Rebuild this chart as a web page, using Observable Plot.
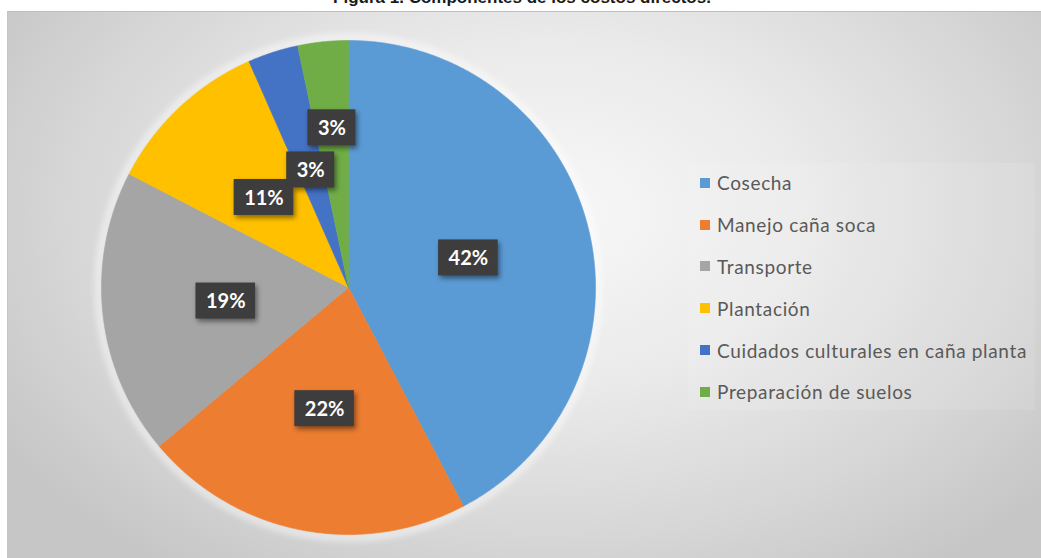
<!DOCTYPE html>
<html>
<head>
<meta charset="utf-8">
<script src="https://cdn.jsdelivr.net/npm/d3@7"></script>
<script src="https://cdn.jsdelivr.net/npm/@observablehq/plot@0.6"></script>
<style>
  html, body { margin: 0; padding: 0; background: #ffffff; overflow: hidden; }
  #wrap { position: relative; width: 1041px; height: 558px; overflow: hidden; }
  #title { position: absolute; left: 0; top: -12px; width: 1044px; text-align: center;
           font: bold 17px "Liberation Sans", Arial, sans-serif; color: #1a1a1a; white-space: nowrap; }
  #frame { position: absolute; left: 7px; top: 11px; width: 1040px; height: 560px;
           border-top: 1.5px solid #bdbdbd; border-left: 1px solid #c4c4c4;
           background: radial-gradient(ellipse 62% 78% at 52% 36%, #f8f8f8 0%, #eaeaea 40%, #d6d6d6 75%, #c6c6c6 100%); }
  #legendbg { position: absolute; left: 688px; top: 163px; width: 347px; height: 247px;
              background: rgba(255,255,255,0.1); }
  #chart { position: absolute; left: 0; top: 0; }
  #chart svg g[aria-label="rect"] { filter: drop-shadow(2px 3px 2.5px rgba(0,0,0,0.45)); }
  #chart svg g[aria-label="dot"] { filter: blur(3px); }
  #legend { position: absolute; left: 700px; top: 162px; font: 19px Lato, "Open Sans", sans-serif;
            letter-spacing: 0.65px; color: #595959; }
  .li { height: 41.8px; display: flex; align-items: center; white-space: nowrap; }
  .sw { width: 10px; height: 10px; margin-right: 7px; flex: none; }
</style>
</head>
<body>
<div id="wrap">
  <div id="title">Figura 1. Componentes de los costos directos.</div>
  <div id="frame"></div>
  <div id="legendbg"></div>
  <div id="chart"></div>
  <div id="legend"></div>
</div>
<script>
// ---- data ----
const categories = ["Cosecha", "Manejo caña soca", "Transporte", "Plantación", "Cuidados culturales en caña planta", "Preparación de suelos"];
const shares = [42.3, 21.6, 18.7, 10.8, 3.3, 3.3];
const labels = ["42%", "22%", "19%", "11%", "3%", "3%"];
const colors = ["#5B9BD5", "#ED7D31", "#A5A5A5", "#FFC000", "#4472C4", "#70AD47"];

// ---- layout ----
const W = 1041, H = 558;
const CX = 348, CY = 287, R = 247; // pie centre & radius in pixels

const arcs = d3.pie().sort(null).value(d => d)(shares);

// slice polygons in unit coordinates (radius 1)
const slicePts = [];
arcs.forEach((a, i) => {
  const name = categories[i];
  slicePts.push({name, x: 0, y: 0});
  const n = Math.max(4, Math.ceil((a.endAngle - a.startAngle) / 0.008));
  for (let k = 0; k <= n; k++) {
    const t = a.startAngle + (a.endAngle - a.startAngle) * k / n;
    slicePts.push({name, x: Math.sin(t), y: Math.cos(t)});
  }
  slicePts.push({name, x: 0, y: 0});
});

// label boxes: measure text, place at half radius, push outward on collision
const ctx = document.createElement("canvas").getContext("2d");
ctx.font = "bold 20px Lato";
const boxH = 36;
const placed = [];
arcs.forEach((a, i) => {
  const mid = (a.startAngle + a.endAngle) / 2;
  const w = ctx.measureText(labels[i]).width + 20;
  let f = 0.5, px, py;
  const hits = () => placed.some(b => Math.abs(b.px - px) < (b.w + w) / 2 - 12 && Math.abs(b.py - py) < boxH + 6);
  do {
    px = CX + f * R * Math.sin(mid);
    py = CY - f * R * Math.cos(mid);
    f += 0.01;
  } while (hits() && f < 1);
  placed.push({px, py, w});
});
const boxes = placed.map((b, i) => {
  const x = (b.px - CX) / R, y = (CY - b.py) / R;
  return {
    label: labels[i], x, y,
    x1: x - b.w / 2 / R, x2: x + b.w / 2 / R,
    y1: y - boxH / 2 / R, y2: y + boxH / 2 / R
  };
});

const chart = Plot.plot({
  width: W, height: H,
  marginTop: 0, marginRight: 0, marginBottom: 0, marginLeft: 0,
  style: {background: "transparent", overflow: "visible"},
  x: {domain: [-CX / R, (W - CX) / R], axis: null},
  y: {domain: [-(H - CY) / R, CY / R], axis: null},
  color: {domain: categories, range: colors},
  marks: [
    Plot.dot([{x: 0, y: 0}], {x: "x", y: "y", r: R + 3, fill: "none", stroke: "#ffffff", strokeWidth: 8, strokeOpacity: 0.5}),
    Plot.line(slicePts, {x: "x", y: "y", z: "name", fill: "name", stroke: "name", strokeWidth: 0.6, curve: "linear"}),
    Plot.rect(boxes, {x1: "x1", x2: "x2", y1: "y1", y2: "y2", fill: "#3d3d3d"}),
    Plot.text(boxes, {x: "x", y: "y", text: "label", fill: "#ffffff", fontSize: 20, fontWeight: "bold",
                      fontFamily: "Lato, sans-serif", dy: 1})
  ]
});
document.getElementById("chart").appendChild(chart);

// legend
const leg = document.getElementById("legend");
categories.forEach((c, i) => {
  const row = document.createElement("div");
  row.className = "li";
  const sw = document.createElement("span");
  sw.className = "sw";
  sw.style.background = colors[i];
  const tx = document.createElement("span");
  tx.textContent = c;
  row.appendChild(sw);
  row.appendChild(tx);
  leg.appendChild(row);
});
</script>
</body>
</html>
